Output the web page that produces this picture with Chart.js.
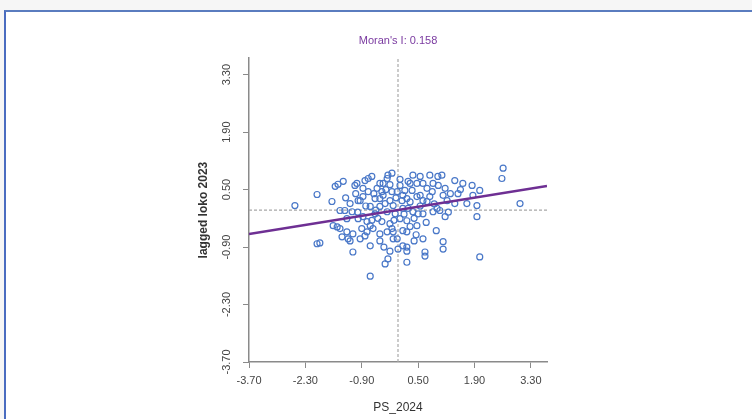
<!DOCTYPE html>
<html lang="en">
<head>
    <meta charset="UTF-8">
    <title>Moran scatter</title>
    <script src="https://cdn.jsdelivr.net/npm/chart.js"></script>
    <style>
        html, body { margin: 0; padding: 0; background: #f6f6f6; }
        #frame {
            position: absolute; left: 4px; top: 10px; width: 760px; height: 420px;
            background: #ffffff;
            border-top: 2px solid #5a7cbf;
            border-left: 2px solid #4a6cc0;
        }
        #wrap { position: absolute; left: 0; top: 0; width: 752px; height: 419px; }
    </style>
</head>
<body>
    <div id="frame"></div>
    <div id="wrap">
        <canvas id="myChart" width="752" height="419"></canvas>
    </div>

    <script>
        // standardized PS_2024 (x) and lagged value (y)
        const psX = [
            -2.56, -2.01, -2.01, -1.94, -1.64, -1.49, -1.36, -1.44, -1.32, -1.27,
            -1.51, -1.39, -1.24, -1.12, -1.07, -0.94, -0.82, -0.74, -0.87, -0.69,
            -0.82, -0.69, -0.52, -0.45, -0.37, -0.25, -0.15, -0.27, -0.40, -0.27,
            -0.45, -0.12, -0.25, -0.32, -0.69, 0.10, 0.17, 0.25, 0.22, 0.12,
            0.22, 0.22, 0.37, 0.47, 0.55, 0.50, 0.47, 0.62, 0.67, 0.79,
            0.87, 0.72, 0.97, 1.09, 1.12, 1.17, 1.12, 1.12, 1.41, 1.61,
            1.84, 2.03, 1.96, 1.96, 2.03, 2.61, 2.58, 3.03, -1.56, -1.02,
            -0.87, -0.74, -0.65, -0.27, -0.15, -0.45, -0.37, -0.57, -0.87, -0.99,
            -0.20, -0.02, -1.14, -0.69, -0.45, -0.12, 0.55, 0.99, 0.30, 0.62,
            1.86, 0.12, 0.22, 0.47, 0.62, 0.79, 1.22, 1.71, 0.37, 0.62,
            0.87, 1.04, 0.12, -1.61, -1.44, -1.27, -1.12, -1.19, -0.94, -0.77,
            -0.62, -0.45, -0.77, -0.20, -0.12, -0.02, -0.20, 0.22, 0.12, 0.22,
            0.67, -0.07, 0.05, -0.32, -0.57, -0.99, -1.19, 0.35, 0.72, 1.17,
            1.49, 1.41, -0.60, -0.30, 0.05, 0.30, 0.40, -0.10, -0.50, -0.90,
            -1.05, -1.30, 0.70, 0.85, 1.30, 1.55, 0.95, 0.40, -0.35, -0.55,
            -0.05, 0.15, -0.20, 0.05, 0.30, -0.65, -1.00, -0.40, 0.55, 0.90,
            1.25, -0.15, 0.00, 0.45, -0.80, 0.25, 1.00
        ];
        const laggedY = [
            0.11, 0.38, -0.82, -0.80, 0.21, 0.63, 0.70, -0.01, -0.01, -0.21,
            -0.41, -0.65, -0.70, -1.02, 0.60, 0.23, 0.72, 0.45, -0.16, -0.38,
            -0.63, -0.87, 0.53, 0.28, 0.65, 0.85, 0.45, -0.04, -0.28, -0.53,
            -0.75, -0.70, -1.19, -1.31, -1.61, 0.23, 0.48, 0.04, -0.26, -0.50,
            -0.90, -1.27, 0.85, 0.65, 0.36, -0.09, -0.38, -0.70, -1.12, 0.85,
            0.65, 0.21, 0.04, 0.85, 0.36, -0.16, -0.77, -0.95, 0.72, 0.65,
            0.60, 0.48, 0.11, -0.16, -1.14, 1.02, 0.77, 0.16, 0.58, 0.65,
            0.53, 0.77, 0.82, 0.77, 0.90, 0.65, 0.36, 0.28, 0.33, 0.23,
            0.23, 0.45, -0.04, 0.09, 0.09, 0.11, 0.82, 0.82, 0.65, 0.65,
            0.36, 0.36, 0.28, 0.33, 0.23, 0.33, 0.23, 0.16, -0.04, -0.09,
            -0.04, -0.01, 0.04, -0.38, -0.45, -0.53, -0.58, -0.75, -0.70, -0.53,
            -0.45, -0.58, -0.28, -0.33, -0.53, -0.70, -1.00, -0.53, -0.87, -1.00,
            -1.02, -0.09, -0.21, 0.16, -0.09, -0.21, 0.16, 0.48, 0.53, 0.53,
            0.40, 0.16, 0.40, 0.50, 0.60, 0.20, -0.20, -0.25, -0.20, -0.45,
            0.40, 0.30, -0.30, 0.45, 0.40, 0.50, -0.50, -0.75, -0.90, 0.00,
            0.30, -0.10, 0.62, 0.75, -0.40, -0.25, -0.05, 0.45, 0.10, 0.15,
            -0.05, -0.45, -0.95, -0.60, 0.10, 0.70, 0.60
        ];
        // regression line ends (slope = Moran's I 0.158)
        const fitX = [-3.70, 3.70];
        const fitY = [-0.585, 0.585];
        const tickVals = [-3.70, -2.30, -0.90, 0.50, 1.90, 3.30];
        const axisMin = -3.70, axisMax = 3.70;

        const points = psX.map((x, i) => ({ x: x, y: laggedY[i] }));
        const fitLine = fitX.map((x, i) => ({ x: x, y: fitY[i] }));

        const fixTicks = function (scale) {
            scale.ticks = tickVals.map(v => ({ value: v }));
        };

        const data = {
            datasets: [
                {
                    type: 'line',
                    data: fitLine,
                    borderColor: '#6e2f93',
                    borderWidth: 2.5,
                    pointRadius: 0,
                    fill: false,
                    order: 0
                },
                {
                    type: 'scatter',
                    data: points,
                    pointStyle: 'circle',
                    pointRadius: 3,
                    borderWidth: 1.2,
                    borderColor: '#4a78c8',
                    backgroundColor: 'rgba(255,255,255,0)',
                    order: 1
                },
                {
                    type: 'line',
                    data: [{ x: 0, y: axisMin }, { x: 0, y: axisMax }],
                    borderColor: '#a8a8a8',
                    borderWidth: 1.2,
                    borderDash: [3, 2],
                    pointRadius: 0,
                    order: 2
                },
                {
                    type: 'line',
                    data: [{ x: axisMin, y: 0 }, { x: axisMax, y: 0 }],
                    borderColor: '#a8a8a8',
                    borderWidth: 1.2,
                    borderDash: [3, 2],
                    pointRadius: 0,
                    order: 2
                }
            ]
        };

        const config = {
            type: 'scatter',
            data: data,
            options: {
                responsive: false,
                animation: false,
                layout: {
                    padding: { left: 190, right: 205, top: 0, bottom: 0 }
                },
                plugins: {
                    legend: { display: false },
                    tooltip: { enabled: false },
                    title: {
                        display: true,
                        text: "Moran's I: 0.158",
                        color: '#7a3aa0',
                        fullSize: false,
                        font: { family: 'Liberation Sans', size: 11, weight: 'normal' },
                        padding: { top: 34, bottom: 11 }
                    }
                },
                scales: {
                    x: {
                        type: 'linear',
                        min: axisMin,
                        max: axisMax,
                        afterBuildTicks: fixTicks,
                        afterFit: function (scale) { scale.height = 57; },
                        border: { display: true, color: '#8a8a8a', width: 1.5 },
                        grid: { drawOnChartArea: false, drawTicks: true, tickLength: 6, color: '#8a8a8a' },
                        ticks: {
                            color: '#444444',
                            padding: 6,
                            font: { family: 'Liberation Sans', size: 11 },
                            callback: v => Number(v).toFixed(2)
                        },
                        title: {
                            display: true,
                            text: 'PS_2024',
                            color: '#333333',
                            font: { family: 'Liberation Sans', size: 12 },
                            padding: { top: 4, bottom: 4 }
                        }
                    },
                    y: {
                        type: 'linear',
                        min: axisMin,
                        max: axisMax,
                        afterBuildTicks: fixTicks,
                        afterFit: function (scale) { scale.width = 59; },
                        border: { display: true, color: '#8a8a8a', width: 1.5 },
                        grid: { drawOnChartArea: false, drawTicks: true, tickLength: 6, color: '#8a8a8a' },
                        ticks: {
                            color: '#444444',
                            padding: 3,
                            minRotation: 90,
                            maxRotation: 90,
                            crossAlign: 'center',
                            font: { family: 'Liberation Sans', size: 11 },
                            callback: v => Number(v).toFixed(2)
                        },
                        title: {
                            display: true,
                            text: 'lagged loko 2023',
                            color: '#333333',
                            font: { family: 'Liberation Sans', size: 12, weight: 'bold' },
                            padding: { top: 6, bottom: 6 }
                        }
                    }
                }
            }
        };

        new Chart(document.getElementById('myChart'), config);
    </script>
</body>
</html>
